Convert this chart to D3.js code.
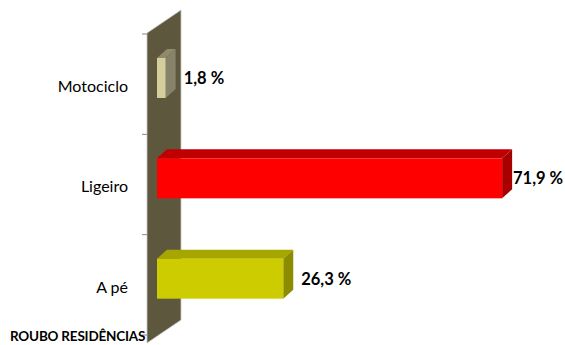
<!DOCTYPE html>
<html><head><meta charset="utf-8">
<script src="https://cdn.jsdelivr.net/npm/d3@7"></script>
<style>html,body{margin:0;padding:0;background:#fff;}svg{display:block;}</style>
</head><body>
<script>
const categories = ["Motociclo", "Ligeiro", "A pé"];
const values = [1.8, 71.9, 26.3];
const valueLabels = ["1,8 %", "71,9 %", "26,3 %"];
const frontColors = ["#d6cd9c", "#ff0000", "#cccc00"];
const topColors = ["#8f8a6c", "#c00000", "#a6a600"];
const sideColors = ["#87826a", "#a80000", "#8c8c00"];
const title = "ROUBO RESIDÊNCIAS";

const W = 565, H = 345;
const svg = d3.select("body").append("svg").attr("width", W).attr("height", H);

const x = d3.scaleLinear().domain([0, 100]).range([157, 637]);
const y = d3.scaleBand().domain(categories).range([34, 335]);
const bw = 40, dx = 10, dy = -9;
const wdx = 34, wdy = -23;

// wall
const wx = x(0) - 10, wTop = y.range()[0] - 1, wBot = y.range()[1] + 8;
svg.append("path")
  .attr("d", `M${wx},${wTop}L${wx + wdx},${wTop + wdy}L${wx + wdx},${wBot + wdy}L${wx},${wBot}Z`)
  .attr("fill", "#5d583d").attr("stroke", "#c8c8c8").attr("stroke-width", 0.8);

// ticks
const tickYs = categories.map(c => y(c)).concat([y.range()[1]]);
svg.selectAll(".tick").data(tickYs).enter().append("line")
  .attr("x1", wx - 5).attr("x2", wx).attr("y1", d => d).attr("y2", d => d)
  .attr("stroke", "#888").attr("stroke-width", 1);

// bars
const data = categories.map((c, i) => ({c, v: values[i], i}));
const g = svg.selectAll(".bar").data(data).enter().append("g");
g.append("path").attr("d", d => {
  const x0 = x(0), x1 = x(d.v), y0 = y(d.c) + 24;
  return `M${x0},${y0}L${x0 + dx},${y0 + dy}L${x1 + dx},${y0 + dy}L${x1},${y0}Z`;
}).attr("fill", d => topColors[d.i]);
g.append("path").attr("d", d => {
  const x1 = x(d.v), y0 = y(d.c) + 24;
  return `M${x1},${y0}L${x1 + dx},${y0 + dy}L${x1 + dx},${y0 + dy + bw}L${x1},${y0 + bw}Z`;
}).attr("fill", d => sideColors[d.i]);
g.append("rect")
  .attr("x", x(0)).attr("y", d => y(d.c) + 24)
  .attr("width", d => x(d.v) - x(0)).attr("height", bw)
  .attr("fill", d => frontColors[d.i]);

// value labels
g.append("text")
  .attr("x", d => Math.min(x(d.v) + 18, 513))
  .attr("y", d => y(d.c) + 50)
  .attr("font-family", "Lato, 'Open Sans', sans-serif")
  .attr("font-weight", "bold").attr("font-size", 16.5).attr("fill", "#000")
  .text(d => valueLabels[d.i]);

// category labels
svg.selectAll(".cat").data(categories).enter().append("text")
  .attr("x", 128).attr("y", d => y(d) + 58)
  .attr("text-anchor", "end")
  .attr("font-family", "Lato, 'Open Sans', sans-serif")
  .attr("font-size", 16).attr("fill", "#000")
  .text(d => d);

svg.append("text").attr("x", 10).attr("y", 341)
  .attr("font-family", "Lato, 'Open Sans', sans-serif")
  .attr("font-weight", "bold").attr("font-size", 13.5).attr("letter-spacing", -0.2)
  .attr("fill", "#000").text(title);
</script>
</body></html>
